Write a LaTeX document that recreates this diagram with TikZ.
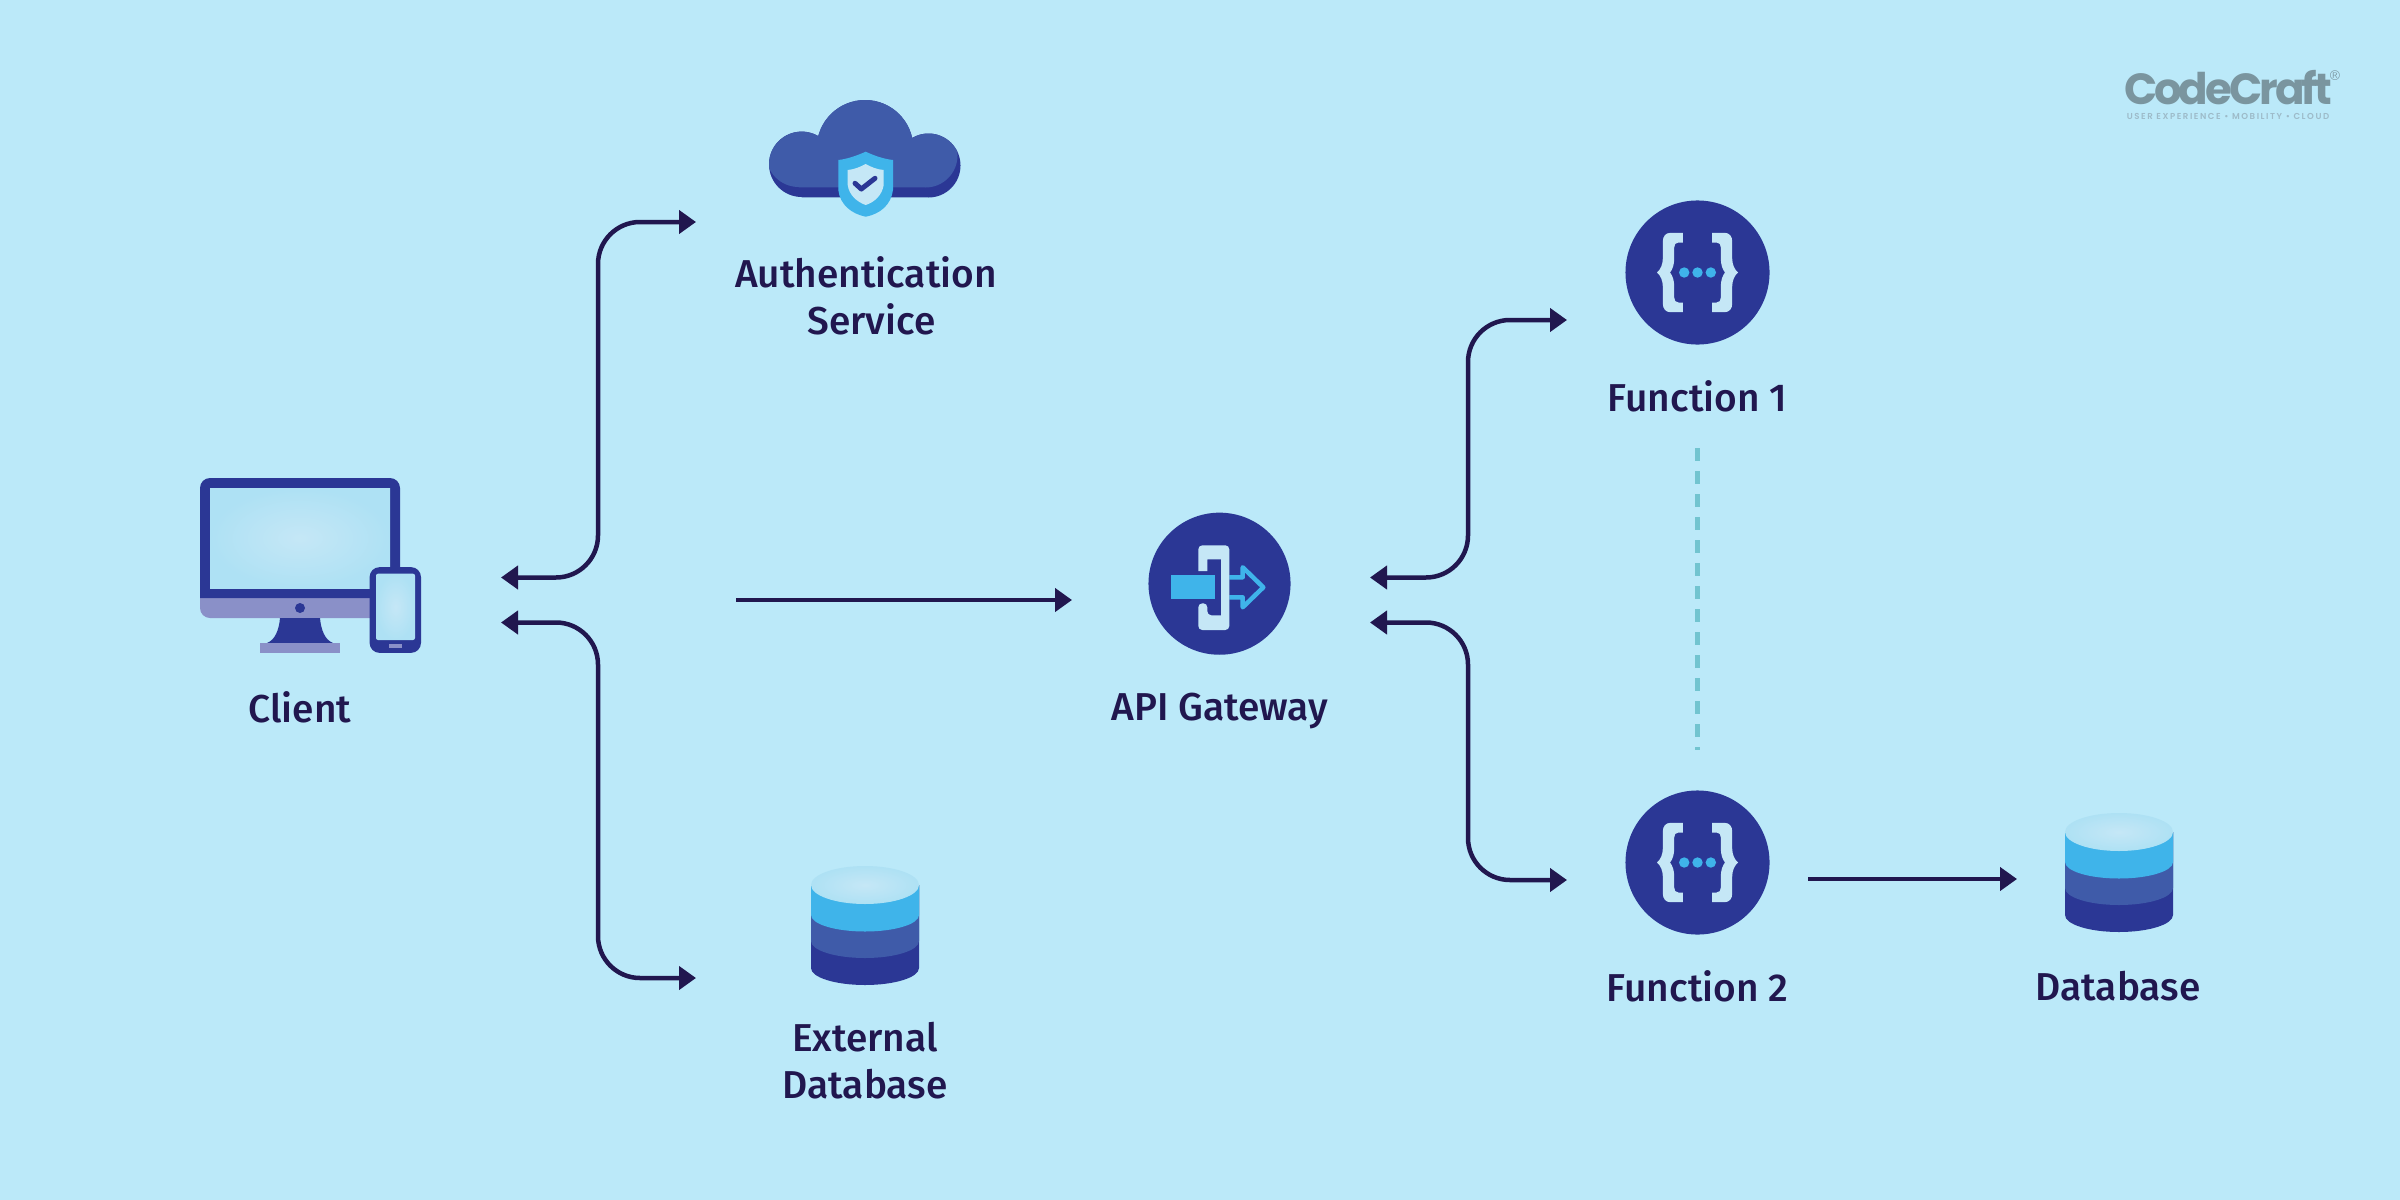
\documentclass[tikz,border=0pt]{standalone}
\usepackage{fontspec}
\setmainfont{Fira Sans Medium}
\newfontfamily\logofont[LetterSpace=-7]{Poppins Bold}
\newfontfamily\tagfont[LetterSpace=18]{Poppins SemiBold}
\usetikzlibrary{arrows.meta}

\definecolor{skybg}{HTML}{BBE9F9}
\definecolor{inkline}{HTML}{21174F}
\definecolor{navyblue}{HTML}{2B3795}
\definecolor{midblue}{HTML}{3F5BA9}
\definecolor{brightblue}{HTML}{3FB4EA}
\definecolor{paleblue}{HTML}{C5E7F6}
\definecolor{glassedge}{HTML}{AEE1F4}
\definecolor{chinblue}{HTML}{8A90C8}
\definecolor{dashteal}{HTML}{72C4D0}
\definecolor{logogrey}{HTML}{7A959F}
\definecolor{taggrey}{HTML}{9DBBC9}

\tikzset{
    label/.style={text=inkline, font=\fontsize{11.05pt}{13.4pt}\selectfont, align=center, inner sep=0pt},
    link/.style={draw=inkline, line width=0.045cm, rounded corners=0.42cm, {Triangle[length=0.17cm,width=0.23cm]}-{Triangle[length=0.17cm,width=0.23cm]}},
    oneway/.style={draw=inkline, line width=0.045cm, -{Triangle[length=0.17cm,width=0.23cm]}},
    disc/.style={circle, fill=navyblue, minimum size=1.44cm, inner sep=0pt},
    fnicon/.pic={
        \foreach \s in {1,-1} {
            \fill[paleblue, xscale=\s] (-14.7,-39.7) -- (-27,-39.7) .. controls (-32,-39.7) and (-34.7,-36) .. (-34.7,-31) -- (-34.7,-14) .. controls (-34.7,-8) and (-37,-3) .. (-40.5,0) .. controls (-37,3) and (-34.7,8) .. (-34.7,14) -- (-34.7,31) .. controls (-34.7,36) and (-32,39.7) .. (-27,39.7) -- (-14.7,39.7) -- (-14.7,30) -- (-19,30) .. controls (-22,30) and (-23.3,28) .. (-23.3,25) -- (-23.3,14) .. controls (-23.3,8) and (-25,3) .. (-27.5,0) .. controls (-25,-3) and (-23.3,-8) .. (-23.3,-14) -- (-23.3,-25) .. controls (-23.3,-28) and (-22,-30) .. (-19,-30) -- (-14.7,-30) -- cycle;
        }
        \foreach \x in {-13.3,0,13.3} {
            \fill[brightblue] (\x,0) circle[radius=5.2];
        }
    },
    dbstack/.pic={
        \fill[navyblue] (-54,0) -- (-54,83) arc[start angle=180, end angle=360, x radius=54, y radius=-17] -- (54,0) -- cycle;
        \fill[midblue] (-54,0) -- (-54,56) arc[start angle=180, end angle=360, x radius=54, y radius=-17] -- (54,0) -- cycle;
        \fill[brightblue] (-54,0) -- (-54,30) arc[start angle=180, end angle=360, x radius=54, y radius=-16.5] -- (54,0) -- cycle;
        \shade[inner color=paleblue, outer color=glassedge] (0,0) ellipse[x radius=54, y radius=19];
    }
}
\newcommand{\cloudshape}{(865,148.3) circle[radius=48.3] (801.7,164.3) circle[radius=32.7] (928.5,165.5) circle[radius=32] (928.5,164) rectangle (801.7,197.3)}

\begin{document}
\begin{tikzpicture}[x=0.01cm,y=-0.01cm]

    \fill[skybg] (0,0) rectangle (2400,1200);

    % client
    \fill[chinblue, rounded corners=0.1cm] (200,560) rectangle (400,618);
    \fill[navyblue] (200,598) [rounded corners=0.1cm] -- (200,478) -- (400,478) [sharp corners] -- (400,598) -- cycle;
    \shade[inner color=paleblue, outer color=glassedge] (210,488) rectangle (390,588);
    \fill[navyblue] (300,608) circle[radius=5];
    \fill[navyblue] (280,618) -- (320,618) .. controls (321,630) and (325,640) .. (333,643) -- (267,643) .. controls (275,640) and (279,630) .. (280,618) -- cycle;
    \fill[chinblue] (260,643) rectangle (340,653);
    \node[fill=navyblue, rounded corners=0.1cm, minimum width=0.514cm, minimum height=0.857cm, inner sep=0pt] (phone) at (395.3,610) {};
    \shade[inner color=paleblue, outer color=glassedge, rounded corners=0.02cm] (376,573.7) rectangle (415,640);
    \fill[chinblue] (388.7,644.3) rectangle (402,648.3);
    \node[label] (client) at (300,707) {Client};

    % authentication service
    \fill[navyblue] \cloudshape;
    \begin{scope}
        \clip \cloudshape;
        \fill[midblue, shift={(-3,-10)}] \cloudshape;
    \end{scope}
    \fill[brightblue] (865.7,151.7) .. controls (856,156) and (847,159) .. (838.3,160) -- (838.3,190) .. controls (840,205) and (852,214) .. (865.7,216.7) .. controls (880,214) and (891,205) .. (893,190) -- (893,160) .. controls (884,159) and (875,156) .. (865.7,151.7) -- cycle;
    \fill[paleblue] (865.7,164) .. controls (860,167) and (854,169.5) .. (847.7,170) -- (847.7,185) .. controls (849,195) and (857,202) .. (865.7,205) .. controls (875,202) and (882,195) .. (883.7,185) -- (883.7,170) .. controls (877,169.5) and (871,167) .. (865.7,164) -- cycle;
    \draw[navyblue, line width=0.05cm, line cap=round, line join=round] (855,183.3) -- (861.3,189) -- (875,178.3);
    \node[label] (auth) at (866,295.5) {Authentication\\\hspace*{0.107cm}Service};

    % external database
    \pic at (865,885) {dbstack};
    \node[label] (extdb) at (865,1061) {External\\Database};

    % api gateway
    \node[disc, minimum size=1.42cm] (gateway) at (1219.5,583.7) {};
    \fill[brightblue] (1171,575.3) rectangle (1215,599.3);
    \draw[brightblue, line width=0.045cm, line join=round] (1229.3,577.3) -- (1242.7,577.3) -- (1242.7,567.3) -- (1263.3,587.3) -- (1242.7,607.3) -- (1242.7,597.3) -- (1229.3,597.3);
    \fill[paleblue, rounded corners=0.04cm] (1198.3,571) -- (1198.3,545.3) -- (1229.3,545.3) -- (1229.3,630) -- (1198.3,630) -- (1198.3,603.3) -- (1207.3,603.3) -- (1207.3,615.3) [sharp corners] -- (1221,615.3) -- (1221,559.3) -- (1207.3,559.3) -- (1207.3,571) -- cycle;
    \fill[brightblue] (1171,575.3) rectangle (1215,599.3);
    \node[label] (apigw) at (1220,711) {API Gateway};

    % functions
    \node[disc] (fnone) at (1697.5,272.5) {};
    \pic at (fnone) {fnicon};
    \node[label] (fnonelabel) at (1697.5,396) {Function 1};
    \node[disc] (fntwo) at (1697.5,862.5) {};
    \pic at (fntwo) {fnicon};
    \node[label] (fntwolabel) at (1697.5,986) {Function 2};

    % database
    \pic at (2119,832) {dbstack};
    \node[label] (dbase) at (2118,986) {Database};

    % logo
    \node[inner sep=0pt, text=logogrey, font=\logofont\fontsize{12.4pt}{14pt}\selectfont] (logo) at (2228,88) {CodeCraft};
    \node[inner sep=0pt, text=logogrey, font=\sffamily\fontsize{4pt}{4pt}\selectfont] (logomark) at (2335,76) {®};
    \node[inner sep=0pt, text=taggrey, font=\tagfont\fontsize{2.45pt}{3pt}\selectfont] (logotag) at (2228,116) {USER EXPERIENCE • MOBILITY • CLOUD};

    \coordinate (clientup) at (501,577.5);
    \coordinate (clientdown) at (501,622.5);
    \coordinate (clientout) at (736,600);
    \coordinate (authin) at (696,222);
    \coordinate (extin) at (696,978);
    \coordinate (gatewayin) at (1072,600);
    \coordinate (gatewayup) at (1370,577.5);
    \coordinate (gatewaydown) at (1370,622.5);
    \coordinate (fnonein) at (1567,320);
    \coordinate (fntwoin) at (1567,880);
    \coordinate (fntwoout) at (1808,879);
    \coordinate (dbasein) at (2017,879);
    \coordinate (dashtop) at (1697.5,448);
    \coordinate (dashbottom) at (1697.5,750);

    \draw[link] (clientup) -| (598,222) -- (authin);
    \draw[link] (clientdown) -| (598,978) -- (extin);
    \draw[oneway] (clientout) -- (gatewayin);
    \draw[link] (gatewayup) -| (1468,320) -- (fnonein);
    \draw[link] (gatewaydown) -| (1468,880) -- (fntwoin);
    \draw[oneway] (fntwoout) -- (dbasein);
    \draw[dashteal, line width=0.045cm, dash pattern=on 0.13cm off 0.1cm] (dashtop) -- (dashbottom);

\end{tikzpicture}
\end{document}
